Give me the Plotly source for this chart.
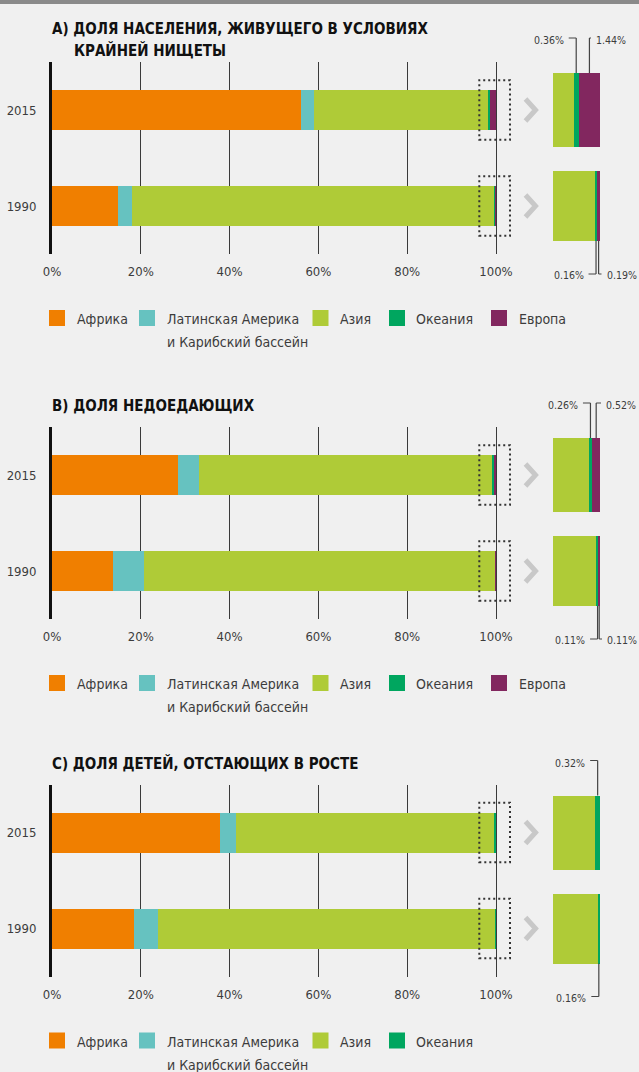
import plotly.graph_objects as go

W, H = 639, 1072

# ---- data -------------------------------------------------------------
years = ["2015", "1990"]
regions = ["Африка", "Латинская Америка<br>и Карибский бассейн", "Азия", "Океания", "Европа"]
region_colors = ["#F07F00", "#66C2C0", "#AFCB37", "#00A65F", "#82275F"]

# share of each region, % (order as in `regions`)
poverty_2015 = [56.1, 2.9, 39.2, 0.36, 1.44]
poverty_1990 = [14.9, 3.2, 81.55, 0.16, 0.19]
hunger_2015 = [28.4, 4.7, 66.12, 0.26, 0.52]
hunger_1990 = [13.7, 7.0, 79.08, 0.11, 0.11]
stunting_2015 = [37.9, 3.5, 58.28, 0.32]
stunting_1990 = [18.5, 5.3, 76.04, 0.16]

tick_values = [0, 20, 40, 60, 80, 100]
tick_labels = ["0%", "20%", "40%", "60%", "80%", "100%"]

panel_titles = [
    ["А) ДОЛЯ НАСЕЛЕНИЯ, ЖИВУЩЕГО В УСЛОВИЯХ", "КРАЙНЕЙ НИЩЕТЫ"],
    ["В) ДОЛЯ НЕДОЕДАЮЩИХ"],
    ["С) ДОЛЯ ДЕТЕЙ, ОТСТАЮЩИХ В РОСТЕ"],
]
panel_values = [
    {"2015": poverty_2015, "1990": poverty_1990},
    {"2015": hunger_2015, "1990": hunger_1990},
    {"2015": stunting_2015, "1990": stunting_1990},
]

# ---- layout constants (pixels) ---------------------------------------
FONT = "'DejaVu Sans Condensed', 'Liberation Sans Narrow', sans-serif"
BG = "#F0F0F0"
TXT = "#3c3c3c"

PANEL_TOP = [62, 427, 784.5]        # top of each main plot area
PLOT_H = 192
MAIN_X0, PX_PER_PCT = 52, 4.44
MAIN_RANGE = [0, 103.4]
INS_X0, INS_X1 = 553, 600
INS_RANGE = [96.8, 100]
MAIN_BAR_W = 0.417
INS_BAR_W = {"2015": 0.771, "1990": 0.729}
RIGHT_LABEL_X = [{"2015": 594, "1990": 604.5},
                 {"2015": 604, "1990": 605},
                 {"2015": None, "1990": None}]

LEG_SQ_X = [49, 139, 312.5, 389, 491]
LEG_TXT_X = [75, 164.5, 337.5, 414, 516.5]


def fx(px):
    return px / W


def fy(py):
    return 1 - py / H


def cat_center_px(top, year):
    idx = 1 if year == "2015" else 0
    return top + PLOT_H * (1.5 - idx) / 2


def ins_px(v):
    return INS_X0 + (v - INS_RANGE[0]) / (INS_RANGE[1] - INS_RANGE[0]) * (INS_X1 - INS_X0)


fig = go.Figure()
shapes = []
annotations = []

# top strip
shapes.append(dict(type="rect", xref="paper", yref="paper", x0=0, x1=1,
                   y0=fy(4), y1=1, fillcolor="#8a8a8a", line_width=0, layer="above"))

layout_axes = {}
for p, (titles, vals) in enumerate(zip(panel_titles, panel_values)):
    top = PANEL_TOP[p]
    n_main, n_ins = 2 * p + 1, 2 * p + 2
    xm = "x" if n_main == 1 else f"x{n_main}"
    ym = "y" if n_main == 1 else f"y{n_main}"
    xi, yi = f"x{n_ins}", f"y{n_ins}"
    n_reg = len(vals["2015"])

    for j in range(n_reg):
        xs = [vals[y][j] for y in years]
        fig.add_trace(go.Bar(
            y=years, x=xs, orientation="h", marker=dict(color=region_colors[j], line_width=0),
            width=MAIN_BAR_W, xaxis=xm, yaxis=ym, showlegend=False,
            name=regions[j].replace("<br>", " "), hoverinfo="name+x"))
        fig.add_trace(go.Bar(
            y=years, x=xs, orientation="h", marker=dict(color=region_colors[j], line_width=0),
            width=[INS_BAR_W[y] for y in years], xaxis=xi, yaxis=yi, showlegend=False,
            name=regions[j].replace("<br>", " "), hoverinfo="name+x"))

    ydom = [fy(top + PLOT_H), fy(top)]
    main_right = MAIN_X0 + (MAIN_RANGE[1] - MAIN_RANGE[0]) * PX_PER_PCT
    layout_axes["xaxis" + ("" if n_main == 1 else str(n_main))] = dict(
        domain=[fx(MAIN_X0), fx(main_right)], range=MAIN_RANGE, anchor=ym, automargin=False,
        tickvals=tick_values, ticktext=tick_labels, showgrid=True, gridcolor="#3a3a3a",
        gridwidth=1, zeroline=False, showline=False, ticks="",
        tickfont=dict(family=FONT, size=13, color=TXT), ticklabelstandoff=8, fixedrange=True)
    layout_axes["yaxis" + ("" if n_main == 1 else str(n_main))] = dict(
        domain=ydom, range=[-0.5, 1.5], anchor=xm, type="category", automargin=False,
        categoryorder="array", categoryarray=["1990", "2015"], showgrid=False,
        zeroline=False, showline=True, linecolor="#111111", linewidth=3, ticks="",
        tickfont=dict(family=FONT, size=13, color=TXT), ticklabelstandoff=10, fixedrange=True)
    layout_axes[f"xaxis{n_ins}"] = dict(
        domain=[fx(INS_X0), fx(INS_X1)], range=INS_RANGE, anchor=yi, visible=False,
        automargin=False, fixedrange=True)
    layout_axes[f"yaxis{n_ins}"] = dict(
        domain=ydom, range=[-0.5, 1.5], anchor=xi, type="category", visible=False,
        automargin=False, categoryorder="array", categoryarray=["1990", "2015"], fixedrange=True)

    # titles
    annotations.append(dict(text=f"<b>{titles[0]}</b>", x=fx(50), y=fy(top - (33 if len(titles) > 1 else 21)),
                            xref="paper", yref="paper", xanchor="left", yanchor="middle",
                            showarrow=False, font=dict(family=FONT, size=15, color="#111111")))
    if len(titles) > 1:
        annotations.append(dict(text=f"<b>{titles[1]}</b>", x=fx(72), y=fy(top - 12),
                                xref="paper", yref="paper", xanchor="left", yanchor="middle",
                                showarrow=False, font=dict(family=FONT, size=15, color="#111111")))

    for y in years:
        c = 1 if y == "2015" else 0
        cpx = cat_center_px(top, y)
        # dotted box around the end of the bar
        shapes.append(dict(type="rect", xref=xm, yref=ym,
                           x0=(479.3 - MAIN_X0) / PX_PER_PCT, x1=(510 - MAIN_X0) / PX_PER_PCT,
                           y0=c - 0.31, y1=c + 0.31,
                           line=dict(color="#333333", width=2, dash="2px,3px"), layer="above"))
        # chevron
        path = (f"M {fx(525.5)},{fy(cpx - 11)} L {fx(535.5)},{fy(cpx)} "
                f"L {fx(525.5)},{fy(cpx + 11)}")
        shapes.append(dict(type="path", xref="paper", yref="paper", path=path,
                           line=dict(color="#c8c8c8", width=5)))

    # leader lines and value labels for the small regions
    for y in years:
        v = vals[y]
        cpx = cat_center_px(top, y)
        half = INS_BAR_W[y] * PLOT_H / 2 / 2
        small = list(range(3, n_reg))
        for k, j in enumerate(small):
            start = sum(v[:j])
            vx = ins_px(start + v[j] / 2)
            label = f"{v[j]:.2f}%"
            if y == "2015":
                bar_edge, line_y, text_y = cpx - half, top - 24, top - 22
            else:
                bar_edge, line_y, text_y = cpx + half, top + 212, top + 213
            if k == 0:
                tx = vx - 10.5
                hx0, hx1 = tx + 3, vx
                xanchor = "right"
            else:
                tx = RIGHT_LABEL_X[p][y]
                hx0, hx1 = vx, tx - 3
                xanchor = "left"
            path = (f"M {fx(hx0)},{fy(line_y)} L {fx(hx1)},{fy(line_y)} "
                    f"M {fx(vx)},{fy(line_y)} L {fx(vx)},{fy(bar_edge)}")
            shapes.append(dict(type="path", xref="paper", yref="paper", path=path,
                               line=dict(color="#444444", width=1.2)))
            annotations.append(dict(text=label, x=fx(tx), y=fy(text_y), xref="paper", yref="paper",
                                    xanchor=xanchor, yanchor="middle", showarrow=False,
                                    font=dict(family=FONT, size=10.5, color=TXT)))

    # legend
    leg_y = top + 256
    for j in range(n_reg):
        shapes.append(dict(type="rect", xref="paper", yref="paper",
                           x0=fx(LEG_SQ_X[j]), x1=fx(LEG_SQ_X[j] + 16),
                           y0=fy(leg_y + 8), y1=fy(leg_y - 8),
                           fillcolor=region_colors[j], line_width=0))
        for li, line in enumerate(regions[j].split("<br>")):
            annotations.append(dict(text=line, x=fx(LEG_TXT_X[j]), y=fy(leg_y + 1 + 23 * li),
                                    xref="paper", yref="paper", xanchor="left", yanchor="middle",
                                    showarrow=False, font=dict(family=FONT, size=14, color=TXT)))

fig.update_layout(
    width=W, height=H, margin=dict(l=0, r=0, t=0, b=0, autoexpand=False),
    paper_bgcolor=BG, plot_bgcolor="rgba(0,0,0,0)",
    barmode="stack", bargap=0, showlegend=False,
    shapes=shapes, annotations=annotations,
    font=dict(family=FONT, color=TXT),
    **layout_axes,
)

fig.write_html("out.html", config={"displayModeBar": False})
